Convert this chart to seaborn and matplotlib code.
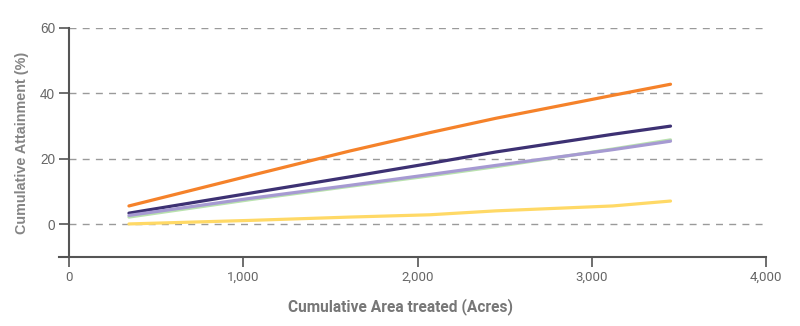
import matplotlib
matplotlib.use("Agg")
import matplotlib.pyplot as plt
import seaborn as sns
import pandas as pd

# Cumulative area treated (acres) at each reporting step
area_acres = [344, 1050, 1612, 2070, 2450, 3120, 3452]

# Cumulative attainment (%) per series
series_a = [5.6, 15.0, 22.4, 28.0, 32.4, 39.4, 42.8]
series_b = [3.4, 9.6, 14.5, 18.6, 22.1, 27.5, 30.0]
series_c = [2.2, 7.6, 11.6, 14.8, 17.6, 23.0, 25.8]
series_d = [2.7, 8.0, 11.9, 15.2, 18.0, 22.8, 25.4]
series_e = [0.1, 1.2, 2.2, 2.9, 4.1, 5.6, 7.1]

series_names = ["A", "B", "C", "D", "E"]
series_colors = ["#F5822A", "#3D3173", "#B9E2AE", "#A69AD2", "#FFD966"]

x_ticks = [0, 1000, 2000, 3000, 4000]
x_tick_labels = ["0", "1,000", "2,000", "3,000", "4,000"]
y_ticks = [0, 20, 40, 60]
y_tick_labels = ["0", "20", "40", "60"]

rows = []
for name, vals in zip(series_names, [series_a, series_b, series_c, series_d, series_e]):
    for x, y in zip(area_acres, vals):
        rows.append({"area": x, "attainment": y, "series": name})
df = pd.DataFrame(rows)

sns.set_theme(style="white")
plt.rcParams["font.family"] = ["Liberation Sans", "DejaVu Sans"]

fig = plt.figure(figsize=(8.0, 3.26), dpi=100)
ax = fig.add_axes([0.08625, 0.2117, 0.87125, 0.7025])

# dashed horizontal reference lines
for yv in y_ticks:
    ax.plot([0, 3990], [yv, yv], color="#9A9A9A", lw=1.0,
            linestyle=(0, (5, 4.5)), zorder=1)

sns.lineplot(data=df, x="area", y="attainment", hue="series",
             hue_order=series_names, palette=series_colors,
             linewidth=2.3, legend=False, ax=ax, zorder=3)

ax.set_xlim(0, 4000)
ax.set_ylim(-10, 60)
ax.set_xticks(x_ticks)
ax.set_xticklabels(x_tick_labels, family=["Roboto", "DejaVu Sans"])
ax.set_yticks(y_ticks)
ax.set_yticklabels(y_tick_labels)

ax.tick_params(axis="x", direction="out", length=7, width=1.2, color="#555555",
               labelsize=9.5, labelcolor="#666666", pad=3, bottom=True)
ax.tick_params(axis="y", direction="out", length=7, width=1.2, color="#555555",
               labelsize=9.8, labelcolor="#666666", pad=3, left=True)

for side in ["top", "right"]:
    ax.spines[side].set_visible(False)
for side in ["left", "bottom"]:
    ax.spines[side].set_color("#555555")
    ax.spines[side].set_linewidth(1.5)
ax.spines["bottom"].set_bounds(-55, 4000)
ax.spines["left"].set_bounds(-10, 60)

ax.set_xlabel("")
fig.text(0.5, 0.061, "Cumulative Area treated (Acres)", ha="center", va="center",
         fontsize=11.2, fontweight="bold", color="#777777",
         family=["Roboto", "DejaVu Sans"])
ax.set_ylabel("Cumulative Attainment (%)", fontsize=10.4, fontweight="semibold",
              color="#858585", labelpad=8)

fig.savefig("out.png", dpi=100)
